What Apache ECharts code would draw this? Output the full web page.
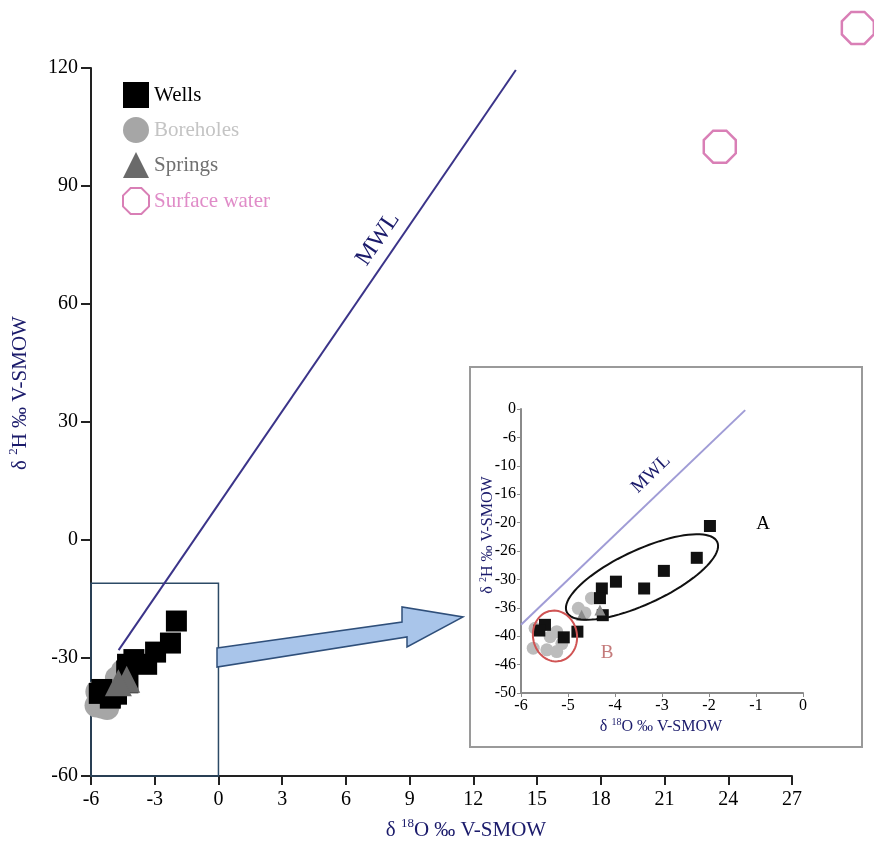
<!DOCTYPE html>
<html>
<head>
<meta charset="utf-8">
<script src="https://cdn.jsdelivr.net/npm/echarts@6/dist/echarts.min.js"></script>
<style>html,body{margin:0;padding:0;background:#fff;}#c{width:874px;height:844px;}</style>
</head>
<body>
<div id="c"></div>
<script>
// ---------- data ----------
const wellsX = [-1.98, -2.26, -2.96, -3.38, -3.98, -4.28, -4.32, -4.26, -4.80, -5.09, -5.49, -5.61];
const wellsY = [-20.6, -26.2, -28.5, -31.6, -30.4, -31.6, -33.3, -36.3, -39.2, -40.2, -38.0, -39.0];
const boreholesX = [-4.50, -4.78, -4.64, -5.70, -5.24, -5.38, -5.13, -5.74, -5.45, -5.24];
const boreholesY = [-33.3, -35.1, -35.9, -38.6, -39.2, -40.1, -41.3, -42.1, -42.4, -42.7];
const springsX = [-4.32, -4.71];
const springsY = [-35.4, -36.3];
const surfaceX = [23.6, 30.1];
const surfaceY = [100, 130.2];
const mwlMainX = [-4.7, 14.0];
const mwlMainY = [-28, 119.5];
const mwlInsetX = [-6.0, -1.23];
const mwlInsetY = [-38, -0.2];
const zoomBoxX = [-6, 0];
const zoomBoxY = [-11, -60];
const insetYTickValues = [-50, -45, -40, -35, -30, -25, -20, -15, -10, -5, 0];
const insetYTickLabels = ['-50', '-46', '-40', '-36', '-30', '-26', '-20', '-16', '-10', '-6', '0'];

const pairs = (xs, ys) => xs.map((x, i) => [x, ys[i]]);
const FONT = "'Liberation Serif', 'DejaVu Serif', serif";
const NAVY = '#1b1b6b';
const octagon = 'path://M29.3,0 L70.7,0 L100,29.3 L100,70.7 L70.7,100 L29.3,100 L0,70.7 L0,29.3 Z';

function ellipsePts(cx, cy, a, b, angDeg, n) {
  const t = angDeg * Math.PI / 180, pts = [];
  for (let i = 0; i < n; i++) {
    const u = 2 * Math.PI * i / n;
    const ex = a * Math.cos(u), ey = b * Math.sin(u);
    pts.push([cx + ex * Math.cos(t) - ey * Math.sin(t), cy + ex * Math.sin(t) + ey * Math.cos(t)]);
  }
  return pts;
}

function titleText(x, y, sup, rest, size, rot) {
  return {
    type: 'text', x: x, y: y, rotation: rot || 0, z: 10,
    style: {
      text: '{n|δ }{s|' + sup + '}{n|' + rest + '}',
      textAlign: 'center', textVerticalAlign: 'middle',
      rich: {
        n: { fontSize: size, fontFamily: FONT, fill: NAVY, color: NAVY, lineHeight: size + 4 },
        s: { fontSize: Math.round(size * 0.62), fontFamily: FONT, fill: NAVY, color: NAVY, verticalAlign: 'top', lineHeight: size + 4 }
      }
    }
  };
}

const chart = echarts.init(document.getElementById('c'), null, { renderer: 'canvas' });
const option = {
  animation: false,
  backgroundColor: '#fff',
  textStyle: { fontFamily: FONT },
  legend: {
    orient: 'vertical', left: 117, top: 77,
    itemWidth: 26, itemHeight: 26, itemGap: 9,
    textStyle: { fontSize: 21, fontFamily: FONT },
    data: [
      { name: 'Wells', textStyle: { color: '#000' } },
      { name: 'Boreholes', textStyle: { color: '#c4c4c4' } },
      { name: 'Springs', textStyle: { color: '#707070' } },
      { name: 'Surface water', textStyle: { color: '#e08cc8' } }
    ]
  },
  grid: [
    { left: 91, right: 82, top: 68, bottom: 68 },
    { left: 521, right: 71, top: 409, bottom: 151 }
  ],
  xAxis: [
    {
      gridIndex: 0, type: 'value', min: -6, max: 27, interval: 3, position: 'bottom',
      axisLine: { onZero: false, lineStyle: { color: '#222', width: 2 } },
      axisTick: { length: 9, lineStyle: { color: '#222', width: 2 } },
      axisLabel: { color: '#000', fontSize: 20, margin: 14, fontFamily: FONT },
      splitLine: { show: false }
    },
    {
      gridIndex: 1, type: 'value', min: -6, max: 0, interval: 1, position: 'bottom',
      axisLine: { onZero: false, lineStyle: { color: '#8a8a8a', width: 2 } },
      axisTick: { length: 4, lineStyle: { color: '#8a8a8a' } },
      axisLabel: { color: '#000', fontSize: 16, margin: 5, fontFamily: FONT },
      splitLine: { show: false }
    }
  ],
  yAxis: [
    {
      gridIndex: 0, type: 'value', min: -60, max: 120, interval: 30, position: 'left',
      axisLine: { show: true, onZero: false, lineStyle: { color: '#222', width: 2 } },
      axisTick: { show: true, length: 10, lineStyle: { color: '#222', width: 2 } },
      axisLabel: { color: '#000', fontSize: 20, margin: 13, fontFamily: FONT },
      splitLine: { show: false }
    },
    {
      gridIndex: 1, type: 'value', min: -50, max: 0, interval: 5, position: 'left',
      axisLine: { show: true, onZero: false, lineStyle: { color: '#8a8a8a', width: 2 } },
      axisTick: { show: true, length: 4, lineStyle: { color: '#8a8a8a' } },
      axisLabel: {
        color: '#000', fontSize: 16, margin: 5, fontFamily: FONT,
        formatter: v => { const i = insetYTickValues.indexOf(Math.round(v)); return i >= 0 ? insetYTickLabels[i] : ''; }
      },
      splitLine: { show: false }
    }
  ],
  series: [
    // ---- main chart ----
    {
      type: 'line', name: 'MWL', xAxisIndex: 0, yAxisIndex: 0,
      data: pairs(mwlMainX, mwlMainY), symbol: 'none',
      lineStyle: { color: '#3b3489', width: 2 }, z: 3,
      markArea: {
        silent: true,
        itemStyle: { color: 'rgba(0,0,0,0)', borderColor: '#2c4a66', borderWidth: 1.5 },
        data: [[{ coord: [zoomBoxX[0], zoomBoxY[0]] }, { coord: [zoomBoxX[1], zoomBoxY[1]] }]]
      }
    },
    {
      type: 'scatter', name: 'Boreholes', xAxisIndex: 0, yAxisIndex: 0,
      data: pairs(boreholesX, boreholesY), symbol: 'circle', symbolSize: 24,
      itemStyle: { color: '#a6a6a6', opacity: 1 }, z: 4
    },
    {
      type: 'scatter', name: 'Wells', xAxisIndex: 0, yAxisIndex: 0,
      data: pairs(wellsX, wellsY), symbol: 'rect', symbolSize: 21,
      itemStyle: { color: '#000', opacity: 1 }, z: 5
    },
    {
      type: 'scatter', name: 'Springs', xAxisIndex: 0, yAxisIndex: 0,
      data: pairs(springsX, springsY), symbol: 'triangle', symbolSize: 27,
      itemStyle: { color: '#6a6a6a', opacity: 1 }, z: 6
    },
    {
      type: 'scatter', name: 'Surface water', xAxisIndex: 0, yAxisIndex: 0,
      data: pairs(surfaceX, surfaceY), symbol: octagon, symbolSize: 32, clip: false,
      itemStyle: { color: 'rgba(255,255,255,0)', borderColor: '#d97fb6', borderWidth: 2.5, opacity: 1 }, z: 6
    },
    // ---- inset ----
    {
      type: 'line', name: 'MWL inset', xAxisIndex: 1, yAxisIndex: 1,
      data: pairs(mwlInsetX, mwlInsetY), symbol: 'none',
      lineStyle: { color: '#a09cd6', width: 2 }, z: 3
    },
    {
      type: 'scatter', name: 'Boreholes', xAxisIndex: 1, yAxisIndex: 1,
      data: pairs(boreholesX, boreholesY), symbol: 'circle', symbolSize: 13,
      itemStyle: { color: '#bcbcbc', opacity: 1 }, z: 4
    },
    {
      type: 'scatter', name: 'Wells', xAxisIndex: 1, yAxisIndex: 1,
      data: pairs(wellsX, wellsY), symbol: 'rect', symbolSize: 12,
      itemStyle: { color: '#111', opacity: 1 }, z: 5
    },
    {
      type: 'scatter', name: 'Springs', xAxisIndex: 1, yAxisIndex: 1,
      data: pairs(springsX, springsY), symbol: 'triangle', symbolSize: 11,
      itemStyle: { color: '#8c8c8c', opacity: 1 }, z: 6
    }
  ],
  graphic: [
    // inset frame
    { type: 'rect', shape: { x: 470, y: 367, width: 392, height: 380 }, style: { fill: 'none', stroke: '#9a9a9a', lineWidth: 2 }, z: 1 },
    // arrow
    {
      type: 'polygon', z: 8,
      shape: { points: [[217, 648], [402, 622], [402, 607], [463, 617], [407, 647], [407, 637], [217, 667]] },
      style: { fill: '#a9c5ea', stroke: '#2f4f7a', lineWidth: 1.5 }
    },
    // ellipses A and B
    { type: 'polygon', z: 8, shape: { points: ellipsePts(642, 577, 83, 27, -25, 90) }, style: { fill: 'none', stroke: '#111', lineWidth: 2 } },
    { type: 'polygon', z: 8, shape: { points: ellipsePts(555, 636, 22, 25.5, -10, 72) }, style: { fill: 'none', stroke: '#d05454', lineWidth: 2 } },
    { type: 'text', x: 763, y: 524, z: 9, style: { text: 'A', fill: '#000', font: '19px ' + FONT, textAlign: 'center', textVerticalAlign: 'middle' } },
    { type: 'text', x: 607, y: 653, z: 9, style: { text: 'B', fill: '#c47a7a', font: '19px ' + FONT, textAlign: 'center', textVerticalAlign: 'middle' } },
    // MWL labels
    { type: 'text', x: 378, y: 239, rotation: 55.5 * Math.PI / 180, z: 9, style: { text: 'MWL', fill: NAVY, font: '24px ' + FONT, textAlign: 'center', textVerticalAlign: 'middle' } },
    { type: 'text', x: 651, y: 474, rotation: 44 * Math.PI / 180, z: 9, style: { text: 'MWL', fill: NAVY, font: '19px ' + FONT, textAlign: 'center', textVerticalAlign: 'middle' } },
    // axis titles
    titleText(466, 830, '18', 'O ‰ V-SMOW', 21, 0),
    titleText(20, 393, '2', 'H ‰ V-SMOW', 21, Math.PI / 2),
    titleText(661, 727, '18', 'O ‰ V-SMOW', 16, 0),
    titleText(488, 535, '2', 'H ‰ V-SMOW', 16, Math.PI / 2)
  ]
};
chart.setOption(option);
</script>
</body>
</html>
